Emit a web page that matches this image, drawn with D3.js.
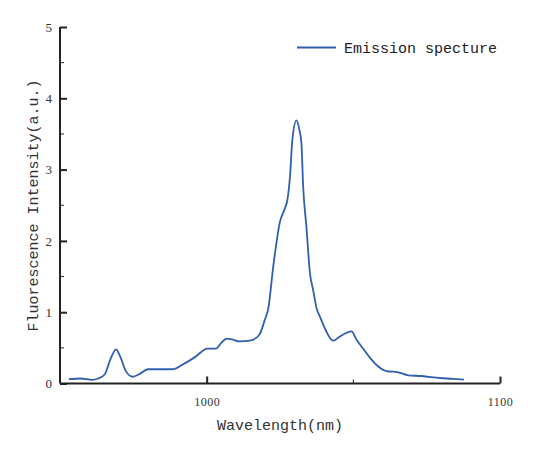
<!DOCTYPE html>
<html>
<head>
<meta charset="utf-8">
<script src="https://cdn.jsdelivr.net/npm/d3@7"></script>
<style>
  html, body { margin: 0; padding: 0; background: #fff; }
  svg { display: block; }
</style>
</head>
<body>
<svg id="chart" width="541" height="450"></svg>
<script>
const wavelength = [953, 957, 961, 963, 965.3, 967, 969.1, 970.5, 972.5, 974.8, 977, 980, 984, 988.6, 992, 996, 1000.3, 1003.2, 1005, 1006.8, 1008.5, 1011.3, 1014.7, 1017.9, 1019.8, 1021, 1022.7, 1025, 1026.7, 1027.5, 1028.4, 1029.2, 1030.6, 1031.6, 1032.3, 1032.9, 1034, 1035.2, 1036.3, 1037.5, 1038.5, 1040, 1043.1, 1045.4, 1049.4, 1051, 1053.3, 1055.5, 1057.9, 1061.3, 1065.3, 1068.7, 1073.2, 1079.5, 1084, 1087.7];
const intensity = [0.06, 0.07, 0.05, 0.07, 0.13, 0.32, 0.48, 0.38, 0.17, 0.095, 0.13, 0.2, 0.2, 0.2, 0.27, 0.37, 0.49, 0.49, 0.57, 0.63, 0.62, 0.59, 0.6, 0.68, 0.89, 1.05, 1.64, 2.27, 2.46, 2.57, 2.90, 3.41, 3.69, 3.56, 3.37, 2.76, 2.20, 1.55, 1.31, 1.05, 0.95, 0.80, 0.60, 0.66, 0.73, 0.62, 0.49, 0.37, 0.26, 0.175, 0.157, 0.115, 0.105, 0.077, 0.065, 0.053];
const xTicks = [1000, 1100];
const xMinorTicks = [1050];
const yTicks = [0, 1, 2, 3, 4, 5];
const yMinorTicks = [0.5, 1.5, 2.5, 3.5, 4.5];
const seriesName = "Emission specture";
const xLabel = "Wavelength(nm)";
const yLabel = "Fluorescence Intensity(a.u.)";

const svg = d3.select("#chart");
const mLeft = 60, mRight = 500, mTop = 27, mBottom = 383.5;
const x = d3.scaleLinear().domain([950, 1100]).range([mLeft, mRight]);
const y = d3.scaleLinear().domain([0, 5]).range([mBottom, mTop]);
const lineColor = "#2f5fae";
const textColor = "#333";

// data line
const data = wavelength.map((w, i) => ({ w, v: intensity[i] }));
svg.append("path")
  .datum(data)
  .attr("fill", "none")
  .attr("stroke", lineColor)
  .attr("stroke-width", 1.8)
  .attr("stroke-linejoin", "round")
  .attr("d", d3.line().x(d => x(d.w)).y(d => y(d.v)).curve(d3.curveMonotoneX));

// x axis
const xAxis = svg.append("g").attr("transform", `translate(0,${mBottom})`)
  .call(d3.axisBottom(x).tickValues(xTicks).tickSize(-7).tickPadding(14).tickFormat(d3.format("d")));
xAxis.select(".domain").attr("stroke", "#222").attr("stroke-width", 2).attr("d", `M${mLeft},0H${mRight}`);
xAxis.selectAll(".tick line").attr("stroke", "#222").attr("stroke-width", 2);
xAxis.selectAll(".tick text").attr("fill", textColor)
  .style("font-family", "'Liberation Serif', serif").style("font-size", "12px").style("letter-spacing", "0.5px");
svg.append("g").selectAll("line").data(xMinorTicks).join("line")
  .attr("x1", d => x(d)).attr("x2", d => x(d))
  .attr("y1", mBottom).attr("y2", mBottom - 4)
  .attr("stroke", "#222").attr("stroke-width", 1);

// y axis
const yAxis = svg.append("g").attr("transform", `translate(${mLeft},0)`)
  .call(d3.axisLeft(y).tickValues(yTicks).tickSize(-7).tickPadding(8).tickFormat(d3.format("d")));
yAxis.select(".domain").attr("stroke", "#222").attr("stroke-width", 2).attr("d", `M0,${mBottom}V${mTop}`);
yAxis.selectAll(".tick line").attr("stroke", "#222").attr("stroke-width", 2);
yAxis.selectAll(".tick text").attr("fill", textColor)
  .style("font-family", "'Liberation Serif', serif").style("font-size", "13px");
svg.append("g").selectAll("line").data(yMinorTicks).join("line")
  .attr("x1", mLeft).attr("x2", mLeft + 4)
  .attr("y1", d => y(d)).attr("y2", d => y(d))
  .attr("stroke", "#222").attr("stroke-width", 1);

// axis labels
svg.append("text")
  .attr("x", (mLeft + mRight) / 2).attr("y", 430)
  .attr("text-anchor", "middle")
  .attr("fill", textColor)
  .style("font-family", "'Liberation Mono', monospace").style("font-size", "15px")
  .text(xLabel);
svg.append("text")
  .attr("transform", `translate(38,${(333 + 78) / 2}) rotate(-90)`)
  .attr("text-anchor", "middle")
  .attr("fill", textColor)
  .style("font-family", "'Liberation Mono', monospace").style("font-size", "15px")
  .text(yLabel);

// legend
const lg = svg.append("g");
lg.append("line").attr("x1", 297).attr("x2", 336).attr("y1", 47.5).attr("y2", 47.5)
  .attr("stroke", lineColor).attr("stroke-width", 1.8);
lg.append("text").attr("x", 344).attr("y", 53)
  .attr("fill", "#222")
  .style("font-family", "'Liberation Mono', monospace").style("font-size", "15px")
  .text(seriesName);
</script>
</body>
</html>
